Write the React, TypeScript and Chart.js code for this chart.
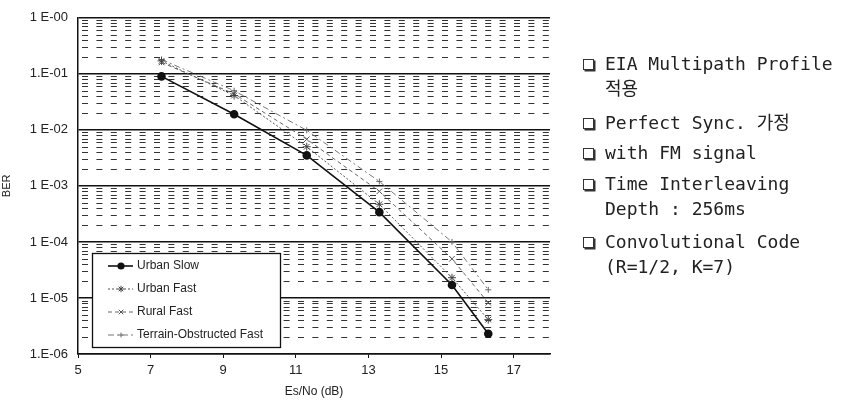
import React, { useEffect, useRef } from "react";
import { Chart, registerables } from "chart.js";
import { drawPoint } from "chart.js/helpers";

Chart.register(...registerables);

const xValues = [7.3, 9.3, 11.3, 13.3, 15.3, 16.3];
const urbanSlow = [0.09, 0.019, 0.0035, 0.00034, 0.000017, 0.0000023];
const urbanFast = [0.17, 0.041, 0.005, 0.00047, 0.000023, 0.0000041];
const ruralFast = [0.16, 0.044, 0.0068, 0.0008, 0.00005, 0.0000082];
const terrainFast = [0.18, 0.05, 0.0098, 0.0012, 0.0001, 0.000014];

const seriesNames = ["Urban Slow", "Urban Fast", "Rural Fast", "Terrain-Obstructed Fast"];
const xTicks = [5, 7, 9, 11, 13, 15, 17];
const yDecades = [1, 0.1, 0.01, 0.001, 0.0001, 0.00001, 0.000001];
const yTickLabels = ["1 E-00", "1.E-01", "1 E-02", "1 E-03", "1 E-04", "1 E-05", "1.E-06"];
const minorMultipliers = [2, 3, 4, 5, 6, 7, 8, 9];

const notes: { bullet: boolean; text: string; top: number }[] = [
  { bullet: true, text: "EIA Multipath Profile", top: 52 },
  { bullet: false, text: "적용", top: 77 },
  { bullet: true, text: "Perfect Sync. 가정", top: 111 },
  { bullet: true, text: "with FM signal", top: 141 },
  { bullet: true, text: "Time Interleaving", top: 172 },
  { bullet: false, text: "Depth : 256ms", top: 197 },
  { bullet: true, text: "Convolutional Code", top: 230 },
  { bullet: false, text: "(R=1/2, K=7)", top: 255 },
];

const FONT = "'Liberation Sans', Arial, sans-serif";

const minorGridPlugin = {
  id: "minorGrid",
  beforeDatasetsDraw(chart: any) {
    const { ctx, chartArea } = chart;
    const y = chart.scales.y;
    ctx.save();
    ctx.strokeStyle = "#333";
    ctx.lineWidth = 1;
    ctx.setLineDash([6, 8.4]);
    for (let d = 1; d < yDecades.length; d++) {
      const base = yDecades[d];
      for (const m of minorMultipliers) {
        const py = Math.round(y.getPixelForValue(base * m)) + 0.5;
        ctx.beginPath();
        ctx.moveTo(chartArea.left + 4, py);
        ctx.lineTo(chartArea.right, py);
        ctx.stroke();
      }
    }
    ctx.restore();
  },
};

const boxLegendPlugin = {
  id: "boxLegend",
  afterDraw(chart: any) {
    const { ctx, chartArea } = chart;
    const left = chartArea.left + 14;
    const bottom = chartArea.bottom - 7;
    const w = 188;
    const h = 94;
    const top = bottom - h;
    ctx.save();
    ctx.setLineDash([]);
    ctx.fillStyle = "#fff";
    ctx.fillRect(left, top, w, h);
    ctx.strokeStyle = "#111";
    ctx.lineWidth = 1.3;
    ctx.strokeRect(left + 0.5, top + 0.5, w, h);
    ctx.font = `12px ${FONT}`;
    ctx.textBaseline = "middle";
    chart.data.datasets.forEach((ds: any, i: number) => {
      const yy = top + 13 + i * 23;
      ctx.strokeStyle = ds.borderColor;
      ctx.lineWidth = ds.borderWidth;
      ctx.setLineDash(ds.borderDash || []);
      ctx.beginPath();
      ctx.moveTo(left + 16, yy);
      ctx.lineTo(left + 41, yy);
      ctx.stroke();
      ctx.setLineDash([]);
      ctx.fillStyle = ds.pointBackgroundColor;
      ctx.strokeStyle = ds.pointBorderColor;
      drawPoint(ctx, { pointStyle: ds.pointStyle, radius: ds.pointRadius * 0.8, rotation: 0, borderWidth: 1 }, left + 29, yy);
      ctx.fillStyle = "#222";
      ctx.fillText(ds.label, left + 45, yy);
    });
    ctx.restore();
  },
};

export default function App() {
  const canvasRef = useRef<HTMLCanvasElement | null>(null);

  useEffect(() => {
    document.body.style.margin = "0";
    const canvas = canvasRef.current;
    if (!canvas) return;
    const mk = (data: number[]) => data.map((v, i) => ({ x: xValues[i], y: v }));
    const chart = new Chart(canvas, {
      type: "line",
      data: {
        datasets: [
          {
            label: seriesNames[0],
            data: mk(urbanSlow),
            borderColor: "#111",
            borderWidth: 1.6,
            pointStyle: "circle",
            pointRadius: 3.5,
            pointBackgroundColor: "#111",
            pointBorderColor: "#111",
          },
          {
            label: seriesNames[1],
            data: mk(urbanFast),
            borderColor: "#555",
            borderWidth: 1,
            borderDash: [2, 2],
            pointStyle: "star",
            pointRadius: 4,
            pointBackgroundColor: "#444",
            pointBorderColor: "#444",
          },
          {
            label: seriesNames[2],
            data: mk(ruralFast),
            borderColor: "#666",
            borderWidth: 1,
            borderDash: [4, 3],
            pointStyle: "crossRot",
            pointRadius: 4,
            pointBackgroundColor: "#555",
            pointBorderColor: "#555",
          },
          {
            label: seriesNames[3],
            data: mk(terrainFast),
            borderColor: "#777",
            borderWidth: 1,
            borderDash: [6, 3, 2, 3],
            pointStyle: "cross",
            pointRadius: 3,
            pointBackgroundColor: "#666",
            pointBorderColor: "#666",
          },
        ],
      },
      options: {
        animation: false,
        responsive: false,
        maintainAspectRatio: false,
        layout: { padding: { top: 12, right: 297, left: 0, bottom: 0 } },
        plugins: { legend: { display: false }, tooltip: { enabled: false } },
        scales: {
          x: {
            type: "linear",
            min: 5,
            max: 18,
            afterBuildTicks: (scale: any) => {
              scale.ticks = xTicks.map((v) => ({ value: v }));
            },
            afterFit: (scale: any) => {
              scale.height = 46;
            },
            ticks: {
              autoSkip: false,
              maxRotation: 0,
              padding: 5,
              color: "#222",
              font: { family: FONT, size: 13 },
            },
            grid: { drawOnChartArea: false, tickLength: 4, color: "#111" },
            border: { color: "#111", width: 1.5 },
            title: {
              display: true,
              text: "Es/No (dB)",
              color: "#222",
              padding: { top: 0, bottom: 1 },
              font: { family: FONT, size: 12 },
            },
          },
          y: {
            type: "logarithmic",
            min: 0.000001,
            max: 1,
            afterBuildTicks: (scale: any) => {
              scale.ticks = yDecades.map((v) => ({ value: v }));
            },
            afterFit: (scale: any) => {
              scale.width = 78;
            },
            ticks: {
              autoSkip: false,
              padding: 10,
              color: "#222",
              font: { family: FONT, size: 13 },
              callback: (value: any) => {
                const idx = yDecades.findIndex((d) => Math.abs(d - Number(value)) / d < 1e-6);
                return idx >= 0 ? yTickLabels[idx] : "";
              },
            },
            grid: { color: "#111", lineWidth: 1.6, drawTicks: false },
            border: { color: "#111", width: 1.5 },
            title: {
              display: true,
              text: "BER",
              color: "#222",
              padding: { top: 0, bottom: 0 },
              font: { family: FONT, size: 11 },
            },
          },
        },
      },
      plugins: [minorGridPlugin, boxLegendPlugin],
    } as any);
    return () => chart.destroy();
  }, []);

  return (
    <div style={{ position: "relative", width: 847, height: 400, background: "#fff" }}>
      <canvas ref={canvasRef} width={847} height={400} style={{ position: "absolute", left: 0, top: 0 }} />
      {notes.map((n, i) => (
        <div
          key={i}
          style={{
            position: "absolute",
            left: 583,
            top: n.top,
            fontFamily: "'DejaVu Sans Mono', 'Noto Sans CJK KR', monospace",
            fontSize: 18,
            lineHeight: "22px",
            color: "#222",
            whiteSpace: "nowrap",
          }}
        >
          <span
            style={{
              display: "inline-block",
              width: 9,
              height: 9,
              border: "1.5px solid #333",
              boxShadow: "1.5px 1.5px 0 #333",
              marginRight: 11,
              verticalAlign: "middle",
              visibility: n.bullet ? "visible" : "hidden",
            }}
          />
          <span style={{ verticalAlign: "middle" }}>{n.text}</span>
        </div>
      ))}
    </div>
  );
}
